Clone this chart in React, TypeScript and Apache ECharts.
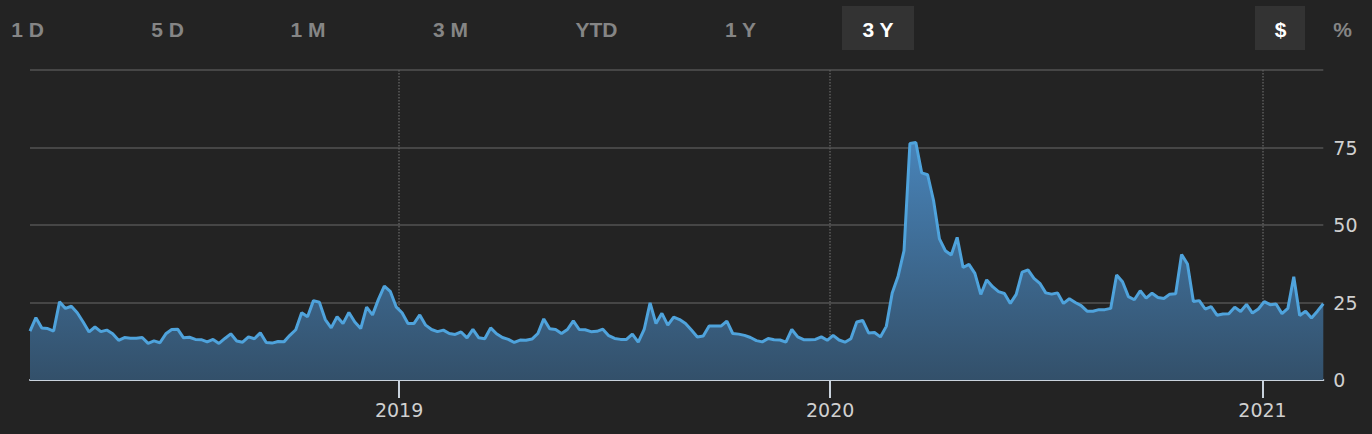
import React, { useEffect, useRef } from 'react';
import * as echarts from 'echarts';

const DAY_MS = 86400000;
const START_TIME = Date.UTC(2018, 1, 22, 12);
const STEP_DAYS = 5;

const values: number[] = [
  15.8, 20.1, 16.8, 16.6, 15.8, 25.2, 23.1, 23.8, 21.7, 18.7, 15.5, 17.1, 15.6, 16.1, 14.9, 12.8, 13.7, 13.5, 13.5, 13.7,
  11.8, 12.6, 12.0, 14.9, 16.3, 16.4, 13.6, 13.8, 13.1, 13.0, 12.3, 13.1, 11.8, 13.4, 14.9, 12.6, 12.2, 13.9,
  13.3, 15.2, 12.1, 11.9, 12.4, 12.3, 14.4, 16.2, 21.7, 20.4, 25.6, 25.1, 19.5, 16.8, 20.4, 18.2, 21.8, 18.7, 16.6, 23.5,
  21.0, 26.0, 30.3, 28.6, 23.6, 21.7, 18.2, 18.2, 21.0, 17.7, 16.3, 15.6, 16.1, 15.0, 14.7, 15.5, 13.6,
  16.3, 13.6, 13.3, 16.8, 14.9, 13.7, 13.1, 12.1, 12.9, 12.8, 13.2, 15.0, 19.7, 16.5, 16.3, 15.0, 16.3, 19.1, 16.3, 16.2,
  15.6, 15.7, 16.4, 14.3, 13.4, 13.1, 13.1, 14.8, 12.2, 16.3, 24.9, 18.2, 21.5, 17.7, 20.3, 19.5,
  18.2, 16.1, 13.9, 14.2, 17.4, 17.4, 17.4, 19.0, 15.0, 14.8, 14.4, 13.7, 12.7, 12.3, 13.4, 13.0, 12.9, 12.2, 16.3, 13.9,
  13.0, 13.0, 13.1, 13.9, 12.8, 14.4, 12.9, 12.2, 13.3, 18.7, 19.2, 15.2, 15.3, 13.9,
  17.3, 28.1, 33.5, 41.7, 76.3, 76.6, 66.8, 66.2, 57.9, 45.5, 41.7, 40.3, 46.0, 36.3, 37.3, 34.4, 27.6, 32.3, 30.1, 28.5,
  27.9, 24.7, 27.6, 34.8, 35.5, 32.8, 31.2, 28.1, 27.7, 28.1, 24.7, 26.2, 25.0, 24.0, 22.2, 22.2, 22.7, 22.7,
  23.1, 33.9, 31.7, 26.9, 25.9, 28.8, 26.4, 28.0, 26.6, 26.3, 27.7, 27.8, 40.5, 37.4, 25.3, 25.6, 22.9, 23.7, 20.9, 21.3,
  21.4, 23.5, 22.1, 24.4, 21.6, 22.9, 25.3, 24.3, 24.5, 21.4, 23.1, 33.3, 20.8, 22.2, 20.0, 22.2, 24.6,
];

const yearTicks: number[] = [Date.UTC(2019, 0, 1), Date.UTC(2020, 0, 1), Date.UTC(2021, 0, 1)];
const Y_MIN = 0;
const Y_MAX = 100;
const Y_INTERVAL = 25;

const rangeButtons: string[] = ['1 D', '5 D', '1 M', '3 M', 'YTD', '1 Y', '3 Y'];
const activeRange = '3 Y';
const unitButtons: string[] = ['$', '%'];
const activeUnit = '$';

const rangeCenters = [27.5, 167.5, 308, 450.5, 596.5, 740.5, 878];
const unitCenters = [1280.5, 1342.5];

export default function App() {
  const ref = useRef<HTMLDivElement>(null);

  useEffect(() => {
    document.body.style.margin = '0';
    const chart = echarts.init(ref.current as HTMLDivElement, null, { renderer: 'svg' });
    const data = values.map((v, i) => [START_TIME + i * STEP_DAYS * DAY_MS, v]);
    const btnFont = 'bold 21px "Liberation Sans", Arial, sans-serif';

    const graphic: any[] = [];
    rangeButtons.forEach((label, i) => {
      const active = label === activeRange;
      if (active) {
        graphic.push({
          type: 'rect',
          shape: { x: rangeCenters[i] - 36, y: 6, width: 72, height: 44 },
          style: { fill: '#333333' },
          z: 10,
        });
      }
      graphic.push({
        type: 'text',
        x: rangeCenters[i],
        y: 29,
        z: 11,
        style: {
          text: label,
          fill: active ? '#ffffff' : '#858585',
          font: btnFont,
          textAlign: 'center',
          textVerticalAlign: 'middle',
        },
      });
    });
    unitButtons.forEach((label, i) => {
      const active = label === activeUnit;
      if (active) {
        graphic.push({
          type: 'rect',
          shape: { x: unitCenters[i] - 25.5, y: 6, width: 50, height: 44 },
          style: { fill: '#333333' },
          z: 10,
        });
      }
      graphic.push({
        type: 'text',
        x: unitCenters[i],
        y: 29,
        z: 11,
        style: {
          text: label,
          fill: active ? '#ffffff' : '#858585',
          font: btnFont,
          textAlign: 'center',
          textVerticalAlign: 'middle',
        },
      });
    });

    const option: any = {
      animation: false,
      backgroundColor: '#232323',
      grid: { left: 30, right: 48.7, top: 70, bottom: 54, containLabel: false },
      xAxis: {
        type: 'value',
        min: START_TIME,
        max: START_TIME + (values.length - 1) * STEP_DAYS * DAY_MS,
        axisLine: { show: true, onZero: false, lineStyle: { color: '#c9d2dc', width: 2 } },
        axisTick: {
          show: true,
          customValues: yearTicks,
          length: 18,
          lineStyle: { color: '#c9d2dc', width: 2 },
        },
        axisLabel: {
          customValues: yearTicks,
          formatter: (v: number) => String(new Date(v).getUTCFullYear()),
          color: '#d0d0d0',
          fontSize: 19,
          fontFamily: '"DejaVu Sans", sans-serif',
          margin: 20,
        },
        splitLine: { show: true, lineStyle: { color: '#5c5c5c', type: 'dotted', width: 1.5 } },
      },
      yAxis: {
        type: 'value',
        position: 'right',
        min: Y_MIN,
        max: Y_MAX,
        interval: Y_INTERVAL,
        axisLine: { show: false },
        axisTick: { show: false },
        axisLabel: {
          color: '#d0d0d0',
          fontSize: 19,
          fontFamily: '"DejaVu Sans", sans-serif',
          margin: 10,
          formatter: (v: number) => (v === Y_MAX ? '' : String(v)),
        },
        splitLine: { show: true, lineStyle: { color: '#464646', width: 2 } },
      },
      series: [
        {
          type: 'line',
          data,
          symbol: 'none',
          showSymbol: false,
          lineStyle: { color: '#4fa3dc', width: 3 },
          areaStyle: {
            color: new echarts.graphic.LinearGradient(0, 0, 0, 1, [
              { offset: 0, color: '#4883b8' },
              { offset: 1, color: '#33506a' },
            ]),
            opacity: 1,
          },
          z: 2,
        },
      ],
      graphic,
    };

    chart.setOption(option);
    return () => chart.dispose();
  }, []);

  return (
    <div
      ref={ref}
      style={{ position: 'fixed', left: 0, top: 0, width: 1372, height: 434, background: '#232323' }}
    />
  );
}
